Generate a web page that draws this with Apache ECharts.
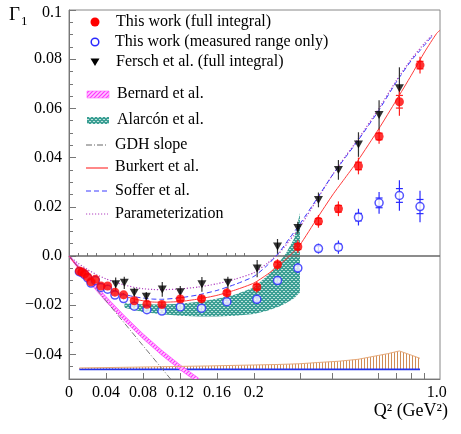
<!DOCTYPE html>
<html><head><meta charset="utf-8">
<script src="https://cdn.jsdelivr.net/npm/echarts@6/dist/echarts.min.js"></script>
<style>html,body{margin:0;padding:0;background:#fff}#c{width:461px;height:434px}</style>
</head><body><div id="c"></div>
<script>
// ---------- data (Q^2 in GeV^2, Gamma_1) ----------
const redQ   = [0.0112,0.0141,0.0169,0.0202,0.0238,0.0285,0.0346,0.0418,0.0497,0.0591,0.0706,0.0843,0.1005,0.1204,0.1434,0.1708,0.2053,0.2463,0.2946,0.3532,0.4211,0.5023,0.6023,0.7203,0.8636];
const redY   = [-0.0061,-0.0065,-0.0072,-0.0085,-0.0105,-0.0095,-0.0122,-0.0122,-0.0147,-0.0158,-0.0182,-0.0196,-0.0197,-0.0175,-0.0174,-0.0150,-0.0126,-0.0035,0.0038,0.0141,0.0192,0.0366,0.0486,0.0627,0.0776];
const redErr = [0.0003,0.0003,0.0003,0.0004,0.0004,0.0005,0.0005,0.0005,0.0007,0.0008,0.0010,0.0012,0.0012,0.0014,0.0016,0.0018,0.0022,0.0022,0.0026,0.0026,0.0030,0.0034,0.0030,0.0057,0.0034];

const bluQ   = [0.0112,0.0141,0.0169,0.0202,0.0238,0.0285,0.0346,0.0418,0.0497,0.0591,0.0706,0.0843,0.1005,0.1204,0.1434,0.1708,0.2053,0.2463,0.2946,0.3532,0.4211,0.5023,0.6023,0.7203,0.8636];
const bluY   = [-0.0064,-0.0068,-0.0076,-0.0089,-0.0110,-0.0100,-0.0128,-0.0135,-0.0159,-0.0173,-0.0204,-0.0218,-0.0224,-0.0207,-0.0212,-0.0186,-0.0176,-0.0100,-0.0049,0.0030,0.0036,0.0158,0.0216,0.0246,0.0201];
const bluErr = [0.0003,0.0003,0.0003,0.0003,0.0004,0.0004,0.0005,0.0005,0.0006,0.0007,0.0008,0.0009,0.0010,0.0011,0.0012,0.0013,0.0018,0.0018,0.0020,0.0020,0.0027,0.0034,0.0044,0.0062,0.0064];

const ferQ   = [0.0505,0.0598,0.0706,0.0836,0.1009,0.1204,0.1438,0.1719,0.2059,0.2463,0.2946,0.3532,0.4211,0.5023,0.6023,0.7203];
const ferY   = [-0.0115,-0.0109,-0.0149,-0.0166,-0.0136,-0.0147,-0.0115,-0.0109,-0.0051,0.0039,0.0114,0.0228,0.0350,0.0453,0.0573,0.0682];
const ferErr = [0.0028,0.0025,0.0020,0.0020,0.0030,0.0025,0.0030,0.0025,0.0035,0.0030,0.0025,0.0030,0.0040,0.0050,0.0060,0.0085];

const burkQ = [0,0.005,0.01,0.02,0.03,0.04,0.05,0.06,0.07,0.08,0.09,0.1,0.12,0.14,0.16,0.18,0.2,0.225,0.25,0.275,0.3,0.35,0.4,0.45,0.5,0.6,0.7,0.8,0.9,1.0,1.03];
const burkY = [0,-0.0024,-0.0046,-0.0081,-0.0108,-0.0130,-0.0148,-0.0163,-0.0174,-0.0182,-0.0187,-0.0188,-0.0185,-0.0175,-0.0160,-0.0138,-0.0110,-0.0075,-0.0037,0.0002,0.0045,0.0155,0.0248,0.0322,0.0388,0.0516,0.0632,0.0735,0.0830,0.0905,0.0918];

const sofQ = [0,0.01,0.02,0.03,0.04,0.05,0.06,0.07,0.08,0.09,0.1,0.12,0.14,0.16,0.18,0.2,0.225,0.25,0.275,0.3,0.35,0.4,0.45,0.5,0.6,0.7,0.8,0.86,0.9,0.96];
const sofY = [0,-0.0045,-0.0079,-0.0105,-0.0126,-0.0143,-0.0156,-0.0165,-0.0171,-0.0175,-0.0176,-0.0170,-0.0158,-0.0140,-0.0115,-0.0083,-0.0038,0.0015,0.0075,0.0130,0.0236,0.0330,0.0404,0.0469,0.0591,0.0706,0.0795,0.0833,0.0858,0.0893];

const parQ = [0,0.01,0.02,0.03,0.04,0.05,0.06,0.07,0.08,0.09,0.1,0.12,0.14,0.16,0.18,0.2,0.225,0.25,0.275,0.3,0.35,0.4,0.45,0.5,0.6,0.7,0.8,0.9,0.96];
const parY = [0,-0.0030,-0.0055,-0.0076,-0.0093,-0.0107,-0.0118,-0.0127,-0.0133,-0.0136,-0.0137,-0.0134,-0.0126,-0.0113,-0.0094,-0.0068,-0.0030,0.0012,0.0065,0.0118,0.0232,0.0330,0.0408,0.0474,0.0598,0.0712,0.0800,0.0866,0.0897];

const gdhQ = [0,0.12];
const gdhY = [0,-0.0546];

const bernQ  = [0,0.02,0.04,0.06,0.08,0.10,0.12,0.14];
const bernLo = [-0.0003,-0.0099,-0.0185,-0.0263,-0.0336,-0.0402,-0.0462,-0.0516];
const bernHi = [0.0003,-0.0082,-0.0165,-0.0243,-0.0316,-0.0382,-0.0442,-0.0496];

const alaQ  = [0.06,0.08,0.1,0.12,0.14,0.16,0.18,0.2,0.225,0.25,0.265,0.285,0.3];
const alaLo = [-0.0210,-0.0228,-0.0237,-0.0243,-0.0246,-0.0246,-0.0243,-0.0236,-0.0223,-0.0205,-0.0192,-0.0172,-0.0148];
const alaHi = [-0.0192,-0.0196,-0.0197,-0.0194,-0.0186,-0.0174,-0.0157,-0.0128,-0.0080,-0.0025,0.0010,0.0070,0.0175];

const sysQ     = [0.0112,0.05,0.1,0.15,0.2,0.2463,0.3,0.35,0.42,0.5,0.6,0.65,0.72,0.8,0.8636];
const sysRedHi = [-0.0455,-0.0453,-0.0450,-0.0447,-0.0443,-0.0441,-0.0438,-0.0433,-0.0428,-0.0420,-0.0404,-0.0397,-0.0386,-0.0403,-0.0416];
const sysRedLo = [-0.0461,-0.0461,-0.0461,-0.0461,-0.0461,-0.0461,-0.0461,-0.0461,-0.0461,-0.0461,-0.0461,-0.0461,-0.0461,-0.0461,-0.0461];
const sysBluHi = [-0.0457,-0.0457,-0.0457,-0.0457,-0.0457,-0.0457,-0.0457,-0.0457,-0.0457,-0.0457,-0.0457,-0.0457,-0.0457,-0.0457,-0.0457];
const sysBluLo = [-0.0464,-0.0464,-0.0464,-0.0464,-0.0464,-0.0464,-0.0464,-0.0464,-0.0464,-0.0464,-0.0464,-0.0464,-0.0464,-0.0464,-0.0464];

const xTickQ = [0,0.04,0.08,0.12,0.16,0.2,1.0];
const xTickLabels = ['0','0.04','0.08','0.12','0.16','0.2','1.0'];
const xMajorQ = [0.04,0.08,0.12,0.16,0.2,0.3,0.4,0.6,0.7,0.8,0.9];
const xMinorQ = [0.01,0.02,0.03,0.05,0.06,0.07,0.09,0.10,0.11,0.13,0.14,0.15,0.17,0.18,0.19];
const yTickVals = [-0.04,-0.02,0,0.02,0.04,0.06,0.08,0.1];
const yTickLabels = ['\u22120.04','\u22120.02','0.0','0.02','0.04','0.06','0.08','{t|0.1}'];

// ---------- axis transform: linear up to 0.2, logarithmic above ----------
const QLIN = 0.2, KLOG = 0.1229;
function toU(q){ return q <= QLIN ? q : QLIN + KLOG*Math.log(q/QLIN); }
const U_MAX = 0.4014;

const yMinor = [];
for (let v = -0.05; v <= 0.1001; v += 0.005) yMinor.push(+v.toFixed(3));

// ---------- patterns ----------
function pat(w,h,draw){const c=document.createElement('canvas');c.width=w;c.height=h;const g=c.getContext('2d');draw(g);return {image:c,repeat:'repeat'};}
const orangePat = pat(3,4,g=>{g.fillStyle='rgba(200,120,55,0.85)';g.fillRect(1,0,1,4);});
const tealPat = pat(4,4,g=>{g.fillStyle='#3c9f94';g.fillRect(0,0,4,4);g.fillStyle='#bfe3de';g.fillRect(1,1,2,1);g.fillRect(3,3,1,1);g.fillRect(0,3,1,1);});
const magPat = pat(4,4,g=>{g.fillStyle='#ffc8ff';g.fillRect(0,0,4,4);g.strokeStyle='#ff33ff';g.lineWidth=1.2;g.beginPath();g.moveTo(-1,5);g.lineTo(5,-1);g.moveTo(-1,1);g.lineTo(1,-1);g.moveTo(3,5);g.lineTo(5,3);g.stroke();});

function zipU(q,y){return q.map((v,i)=>[toU(v),y[i]]);}
function zipE(q,y,e){return q.map((v,i)=>[toU(v),y[i],e[i]]);}

function band(qA,loA,hiA,fill,stroke,z){
  return {type:'custom',coordinateSystem:'cartesian2d',clip:true,z:z,silent:true,
    data:[[toU(qA[0]),loA[0]]],
    renderItem:(p,api)=>{
      const pts=[];
      for(let i=0;i<qA.length;i++) pts.push(api.coord([toU(qA[i]),hiA[i]]));
      for(let i=qA.length-1;i>=0;i--) pts.push(api.coord([toU(qA[i]),loA[i]]));
      return {type:'polygon',shape:{points:pts},style:{fill:fill,stroke:stroke||null,lineWidth:stroke?0.8:0}};
    }};
}
function edge(qA,yA,color,z){
  return {type:'line',data:zipU(qA,yA),symbol:'none',z:z,silent:true,lineStyle:{color:color,width:1}};
}
function errs(q,y,e,color,capFrac,capW,z){
  return {type:'custom',coordinateSystem:'cartesian2d',clip:true,z:z,silent:true,
    data:zipE(q,y,e),encode:{x:0,y:1},
    renderItem:(p,api)=>{
      const x=api.value(0),v=api.value(1),er=api.value(2);
      const a=api.coord([x,v-er]),b=api.coord([x,v+er]);
      const ch=[{type:'line',shape:{x1:a[0],y1:a[1],x2:b[0],y2:b[1]},style:{stroke:color,lineWidth:1.2}}];
      if(capW>0 && er>0.0012){
        const c0=api.coord([x,v-er*capFrac]),c1=api.coord([x,v+er*capFrac]);
        ch.push({type:'line',shape:{x1:c0[0]-capW,y1:c0[1],x2:c0[0]+capW,y2:c0[1]},style:{stroke:color,lineWidth:1.2}});
        ch.push({type:'line',shape:{x1:c1[0]-capW,y1:c1[1],x2:c1[0]+capW,y2:c1[1]},style:{stroke:color,lineWidth:1.2}});
      }
      return {type:'group',children:ch};
    }};
}

const FONT = '"Liberation Serif","DejaVu Serif",serif';

const option = {
  backgroundColor:'#fff',
  animation:false,
  grid:{left:69,right:21,top:10,bottom:55,show:true,borderColor:'#888',borderWidth:1,backgroundColor:'transparent'},
  xAxis:[
    {type:'value',min:0,max:U_MAX,
     axisLine:{onZero:false,lineStyle:{color:'#777',width:1}},
     splitLine:{show:false},
     axisTick:{inside:true,length:6,lineStyle:{color:'#777'},customValues:xMajorQ.map(toU)},
     axisLabel:{margin:6,color:'#000',fontFamily:FONT,fontSize:16,customValues:xTickQ.map(toU),
       formatter:(v)=>{for(let i=0;i<xTickQ.length;i++){if(Math.abs(toU(xTickQ[i])-v)<1e-6)return xTickLabels[i];}return '';}}},
    {type:'value',min:0,max:U_MAX,position:'bottom',
     axisLine:{show:false},splitLine:{show:false},axisLabel:{show:false},
     axisTick:{inside:true,length:3,lineStyle:{color:'#777'},customValues:xMinorQ.map(toU)}}
  ],
  yAxis:[
    {type:'value',min:-0.05,max:0.1,
     axisLine:{onZero:false,lineStyle:{color:'#777',width:1}},
     splitLine:{show:false},
     axisTick:{inside:true,length:7,lineStyle:{color:'#777'},customValues:yTickVals},
     axisLabel:{margin:7,color:'#000',fontFamily:FONT,fontSize:16,customValues:yTickVals,
       rich:{t:{fontFamily:FONT,fontSize:16,color:'#000',padding:[6,0,0,0]}},
       formatter:(v)=>{for(let i=0;i<yTickVals.length;i++){if(Math.abs(yTickVals[i]-v)<1e-9)return yTickLabels[i];}return '';}}},
    {type:'value',min:-0.05,max:0.1,position:'left',
     axisLine:{show:false},splitLine:{show:false},axisLabel:{show:false},
     axisTick:{inside:true,length:4,lineStyle:{color:'#777'},customValues:yMinor}}
  ],
  series:[
    band(alaQ,alaLo,alaHi,tealPat,null,1),
    band(sysQ,sysRedLo,sysRedHi,orangePat,null,1),
    edge(sysQ,sysRedHi,'#e6a878',2),
    band(sysQ,sysBluLo,sysBluHi,'#2233ee',null,2),
    band(bernQ,bernLo,bernHi,magPat,'#ff55ff',2),
    {type:'line',data:[[0,0],[U_MAX,0]],symbol:'none',z:2,silent:true,lineStyle:{color:'#666',width:1.5}},
    {type:'line',data:zipU(gdhQ,gdhY),symbol:'none',z:3,silent:true,lineStyle:{color:'#777',width:1,type:[6,2,1,2]}},
    {type:'line',data:zipU(parQ,parY),symbol:'none',smooth:0.2,z:3,silent:true,lineStyle:{color:'#b040c0',width:1.2,type:[1.2,1.8]}},
    {type:'line',data:zipU(sofQ,sofY),symbol:'none',smooth:0.2,z:3,silent:true,lineStyle:{color:'#3a3aff',width:1,type:[5,3]}},
    {type:'line',data:zipU(burkQ,burkY),symbol:'none',smooth:0.2,z:3,silent:true,lineStyle:{color:'#ff3a3a',width:1}},
    errs(ferQ,ferY,ferErr,'#333',0,0,4),
    errs(bluQ,bluY,bluErr,'#2a2aff',0.45,3.5,4),
    errs(redQ,redY,redErr,'#ff2020',0.45,3.5,5),
    {type:'scatter',data:zipU(ferQ,ferY),symbol:'triangle',symbolRotate:180,symbolSize:[9,8],z:6,silent:true,itemStyle:{color:'#000'}},
    {type:'scatter',data:zipU(bluQ,bluY),symbol:'circle',symbolSize:8,z:6,silent:true,itemStyle:{color:'#fff',borderColor:'#2a2aff',borderWidth:1.5}},
    {type:'scatter',data:zipU(redQ,redY),symbol:'circle',symbolSize:9,z:7,silent:true,itemStyle:{color:'#ff0000'}}
  ],
  graphic:[
    {type:'text',left:9,top:6,style:{text:'\u0393',font:'19px '+FONT,fill:'#000'}},
    {type:'text',left:21,top:15,style:{text:'1',font:'13px '+FONT,fill:'#000'}},
    {type:'text',right:13,top:402,style:{text:'Q\u00b2 (GeV\u00b2)',font:'18px '+FONT,fill:'#000'}},
    // legend
    {type:'circle',shape:{cx:95,cy:22,r:4.5},style:{fill:'#ff0000'}},
    {type:'text',x:116,y:22,style:{text:'This work (full integral)',font:'16px '+FONT,fill:'#000',verticalAlign:'middle'}},
    {type:'circle',shape:{cx:95,cy:42,r:3.8},style:{fill:'#fff',stroke:'#2a2aff',lineWidth:1.5}},
    {type:'text',x:115,y:42,style:{text:'This work (measured range only)',font:'16px '+FONT,fill:'#000',verticalAlign:'middle'}},
    {type:'polygon',shape:{points:[[90.5,58.5],[99.5,58.5],[95,66]]},style:{fill:'#000'}},
    {type:'text',x:116,y:62,style:{text:'Fersch et al. (full integral)',font:'16px '+FONT,fill:'#000',verticalAlign:'middle'}},
    {type:'rect',shape:{x:87,y:91,width:22,height:7},style:{fill:magPat,stroke:'#ff66ff',lineWidth:0.6}},
    {type:'text',x:117,y:94,style:{text:'Bernard et al.',font:'16px '+FONT,fill:'#000',verticalAlign:'middle'}},
    {type:'rect',shape:{x:87,y:117,width:22,height:7},style:{fill:tealPat}},
    {type:'text',x:117,y:120,style:{text:'Alarc\u00f3n et al.',font:'16px '+FONT,fill:'#000',verticalAlign:'middle'}},
    {type:'line',shape:{x1:86,y1:145,x2:108,y2:145},style:{stroke:'#666',lineWidth:1,lineDash:[6,2,1,2]}},
    {type:'text',x:115,y:145,style:{text:'GDH slope',font:'16px '+FONT,fill:'#000',verticalAlign:'middle'}},
    {type:'line',shape:{x1:86,y1:168,x2:108,y2:168},style:{stroke:'#ff3a3a',lineWidth:1.2}},
    {type:'text',x:115,y:167,style:{text:'Burkert et al.',font:'16px '+FONT,fill:'#000',verticalAlign:'middle'}},
    {type:'line',shape:{x1:86,y1:191,x2:108,y2:191},style:{stroke:'#3a3aff',lineWidth:1,lineDash:[5,3]}},
    {type:'text',x:115,y:191,style:{text:'Soffer et al.',font:'16px '+FONT,fill:'#000',verticalAlign:'middle'}},
    {type:'line',shape:{x1:86,y1:214,x2:108,y2:214},style:{stroke:'#b040c0',lineWidth:1,lineDash:[1.2,1.8]}},
    {type:'text',x:115,y:214,style:{text:'Parameterization',font:'16px '+FONT,fill:'#000',verticalAlign:'middle'}}
  ]
};
const chart = echarts.init(document.getElementById('c'),null,{renderer:'canvas'});
chart.setOption(option);
</script></body></html>
